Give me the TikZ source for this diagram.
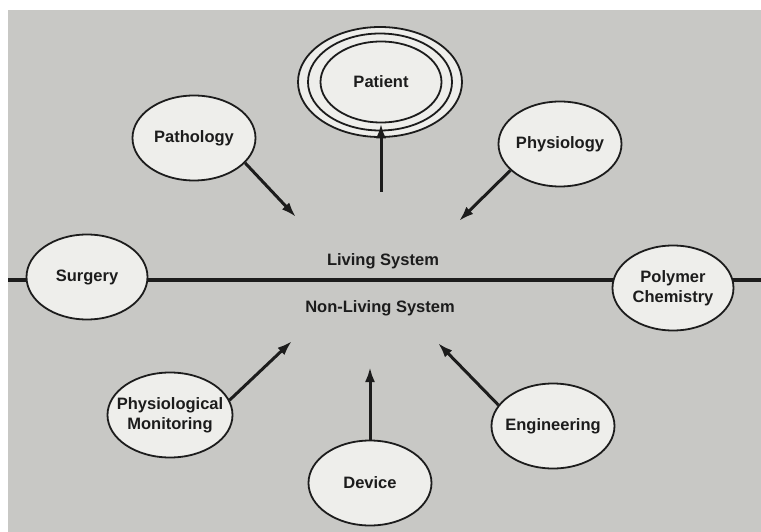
\documentclass[tikz,border=0pt]{standalone}
\usepackage{fontspec}
\setmainfont{Liberation Sans}
\usetikzlibrary{arrows.meta, shapes.geometric}
\definecolor{paper}{RGB}{200,200,197}
\definecolor{bubble}{RGB}{238,238,235}
\definecolor{ink}{RGB}{28,28,28}

\begin{document}
\begin{tikzpicture}[x=1pt, y=-1pt,
    field/.style={ellipse, draw=ink, line width=1.8pt, fill=bubble,
                  inner xsep=-12pt, inner ysep=0pt,
                  minimum width=123pt, minimum height=85pt, align=center,
                  font=\fontsize{16.5}{20}\selectfont\bfseries, text=ink},
    ring/.style={ellipse, draw=ink, line width=1.8pt, fill=bubble, inner sep=0pt},
    sysname/.style={font=\fontsize{16.5}{20}\selectfont\bfseries, text=ink},
    arr/.style={draw=ink, line width=3pt, -{Latex[length=15pt,width=10pt]}}
]
    % paper
    \fill[white] (0,0) rectangle (761,532);
    \fill[paper] (8,10) rectangle (761,532);
    \useasboundingbox (0,0) rectangle (761,532);

    % dividing line
    \coordinate (lineleft) at (8,280);
    \coordinate (lineright) at (761,280);
    \draw[ink, line width=4.5pt] (lineleft) -- (lineright);

    % patient rings
    \node[ring, minimum width=164pt, minimum height=110pt] (ringout) at (380,82) {};
    \node[ring, minimum width=144pt, minimum height=97pt] (ringmid) at (380,82) {};
    \node[field, minimum width=121pt, minimum height=81pt] (patient) at (381,82) {Patient};

    % living side
    \node[field] (pathology) at (194,138) {Pathology};
    \node[field] (physiology) at (560,144) {Physiology};
    \node[field, minimum width=121pt] (surgery) at (87,277) {Surgery};
    \node[field, minimum width=121pt] (polymer) at (673,288) {Polymer\\Chemistry};

    % non-living side
    \node[field, minimum width=125pt] (monitoring) at (170,415) {Physiological\\Monitoring};
    \node[field] (engineering) at (553,426) {Engineering};
    \node[field] (device) at (370,483) {Device};

    % system labels
    \node[sysname] (living) at (383,261) {Living System};
    \node[sysname] (nonliving) at (380,308) {Non-Living System};

    % arrow ends
    \coordinate (patfoot) at (381,192);
    \coordinate (pathtip) at (296,217);
    \coordinate (phystip) at (459,221);
    \coordinate (montip) at (292,341);
    \coordinate (engtip) at (438,343);
    \coordinate (devtip) at (370,367);

    \draw[arr] (patfoot) -- (patient.south);
    \draw[arr] (pathology.-26) -- (pathtip);
    \draw[arr] (physiology.208) -- (phystip);
    \draw[arr] (monitoring.14) -- (montip);
    \draw[arr] (engineering.159) -- (engtip);
    \draw[arr] (device.north) -- (devtip);
\end{tikzpicture}
\end{document}
